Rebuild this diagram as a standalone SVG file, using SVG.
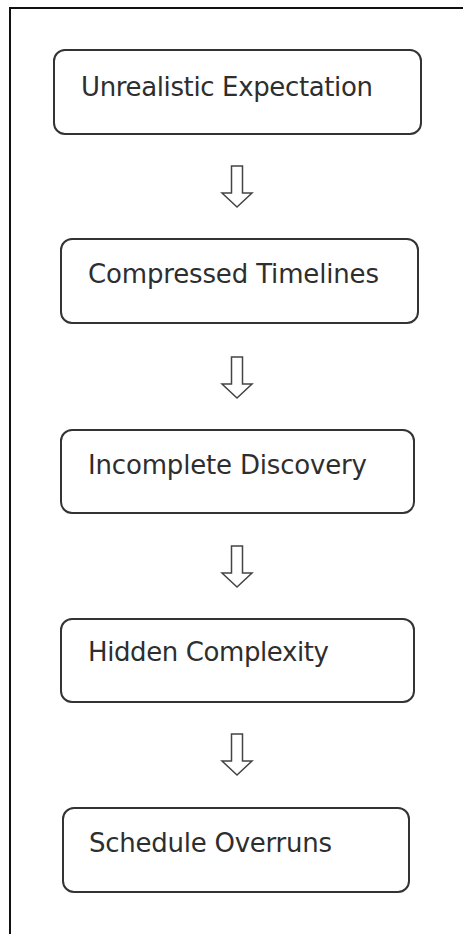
<svg xmlns="http://www.w3.org/2000/svg" width="463" height="934" viewBox="0 0 463 934">
<style>
.box{fill:#fff;stroke:#333;stroke-width:2}
.lbl{font-family:"DejaVu Sans","Liberation Sans",sans-serif;font-size:26px;fill:#2e2e2e}
.arr{fill:#fff;stroke:#444;stroke-width:1.5;stroke-linejoin:miter}
.frame{fill:none;stroke:#111;stroke-width:2}
</style>
<rect width="463" height="934" fill="#fff"/>
<path class="frame" d="M10,934 V8 H463"/>
<g id="n1"><rect class="box" x="54" y="50" width="367" height="84" rx="11"/><text class="lbl" x="81" y="96" textLength="292" lengthAdjust="spacing">Unrealistic Expectation</text></g>
<g id="n2"><rect class="box" x="61" y="239" width="357" height="84" rx="11"/><text class="lbl" x="88" y="283" textLength="291" lengthAdjust="spacing">Compressed Timelines</text></g>
<g id="n3"><rect class="box" x="61" y="430" width="353" height="83" rx="11"/><text class="lbl" x="88" y="474" textLength="279" lengthAdjust="spacing">Incomplete Discovery</text></g>
<g id="n4"><rect class="box" x="61" y="619" width="353" height="83" rx="11"/><text class="lbl" x="88" y="661" textLength="241" lengthAdjust="spacing">Hidden Complexity</text></g>
<g id="n5"><rect class="box" x="63" y="808" width="346" height="84" rx="11"/><text class="lbl" x="89" y="852" textLength="243" lengthAdjust="spacing">Schedule Overruns</text></g>
<g id="connectors">
<path class="arr" d="M231.5,166 H242.5 V193 H252 L237,207 L222,193 H231.5 Z"/>
<path class="arr" d="M231.5,357 H242.5 V384 H252 L237,398 L222,384 H231.5 Z"/>
<path class="arr" d="M231.5,546 H242.5 V573 H252 L237,587 L222,573 H231.5 Z"/>
<path class="arr" d="M231.5,734 H242.5 V761 H252 L237,775 L222,761 H231.5 Z"/>
</g>
</svg>
